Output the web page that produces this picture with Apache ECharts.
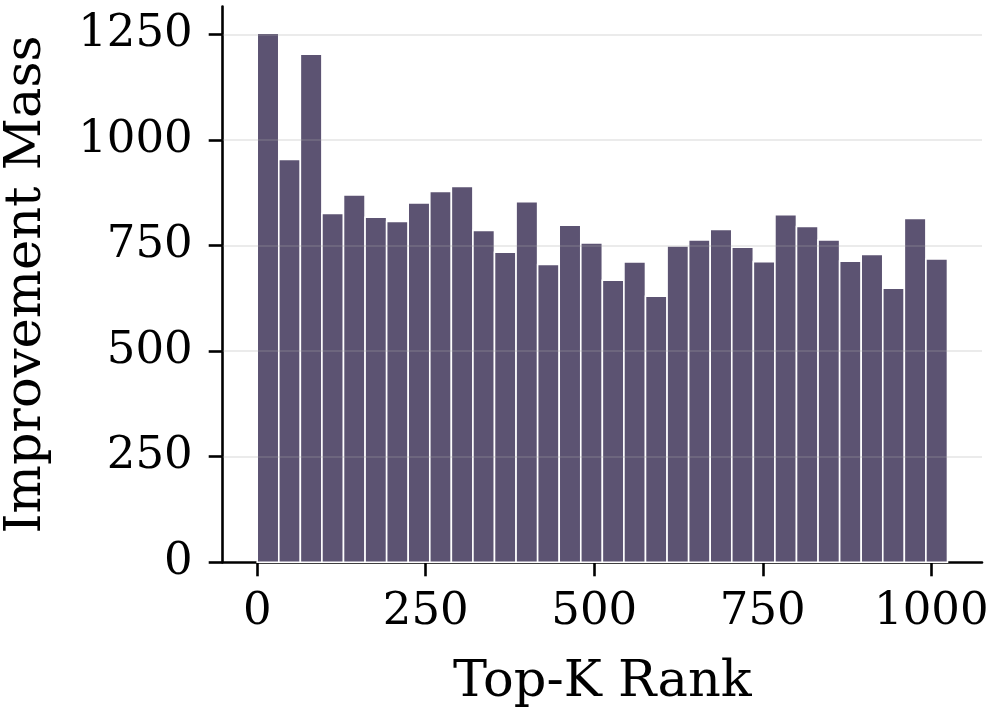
<!DOCTYPE html>
<html>
<head>
<meta charset="utf-8">
<script src="https://cdn.jsdelivr.net/npm/echarts@6/dist/echarts.min.js"></script>
<style>
html,body{margin:0;padding:0;background:#fff;}
#chart{width:997px;height:714px;}
</style>
</head>
<body>
<div id="chart"></div>
<script>
// Histogram bins: 32 bins of width 32 over Top-K rank 0..1024
const binWidth = 32;
const improvementMass = [1253, 954, 1203, 826, 870, 817, 807, 851, 878, 890, 786, 734, 854, 705, 798, 756,
                         668, 711, 630, 749, 763, 788, 746, 712, 823, 795, 763, 713, 729, 649, 814, 718];
const xTicks = [0, 250, 500, 750, 1000];
const yTicks = [0, 250, 500, 750, 1000, 1250];
const xMin = -51.2, xMax = 1075.2;
const yMin = 0, yMax = 1316;
const xName = 'Top-K Rank';
const yName = 'Improvement Mass';

const barData = improvementMass.map((v, i) => [i * binWidth, (i + 1) * binWidth, v]);

const font = "'DejaVu Serif', serif";
const chart = echarts.init(document.getElementById('chart'), null, {renderer: 'canvas'});
chart.setOption({
  animation: false,
  backgroundColor: '#ffffff',
  grid: {left: 222.7, right: 15, top: 6.5, bottom: 151.7, containLabel: false, outerBoundsMode: 'none'},
  xAxis: {
    type: 'value', min: xMin, max: xMax,
    name: xName, nameLocation: 'middle', nameGap: 95,
    nameTextStyle: {fontFamily: font, fontSize: 51, color: '#000'},
    axisLine: {show: true, onZero: false, lineStyle: {color: '#000', width: 2.6}},
    axisTick: {show: true, inside: false, length: 14, lineStyle: {color: '#000', width: 2.6}, customValues: xTicks},
    axisLabel: {show: true, margin: 28, fontFamily: font, fontSize: 45, color: '#000', customValues: xTicks,
                formatter: v => String(v)},
    splitLine: {show: false}
  },
  yAxis: {
    type: 'value', min: yMin, max: yMax,
    name: yName, nameLocation: 'middle', nameGap: 170, nameRotate: 90,
    nameTextStyle: {fontFamily: font, fontSize: 51, color: '#000'},
    axisLine: {show: true, onZero: false, lineStyle: {color: '#000', width: 2.6}},
    axisTick: {show: true, inside: false, length: 14, lineStyle: {color: '#000', width: 2.6}, customValues: yTicks},
    axisLabel: {show: true, margin: 30, fontFamily: font, fontSize: 45, color: '#000', customValues: yTicks,
                formatter: v => String(v)},
    splitLine: {show: false}
  },
  series: [
    {
      type: 'custom',
      z: 2,
      data: barData,
      renderItem: function (params, api) {
        const p0 = api.coord([api.value(0), 0]);
        const p1 = api.coord([api.value(1), api.value(2)]);
        return {
          type: 'rect',
          shape: {x: p0[0], y: p1[1], width: p1[0] - p0[0], height: p0[1] - p1[1]},
          style: {fill: '#5c5372', stroke: '#ffffff', lineWidth: 1.6}
        };
      }
    },
    {
      type: 'line',
      data: [],
      z: 5,
      markLine: {
        silent: true,
        symbol: 'none',
        label: {show: false},
        lineStyle: {color: 'rgba(170,170,170,0.23)', width: 2.2, type: 'solid'},
        data: yTicks.filter(v => v > 0).map(v => ({yAxis: v}))
      }
    }
  ]
});
</script>
</body>
</html>
